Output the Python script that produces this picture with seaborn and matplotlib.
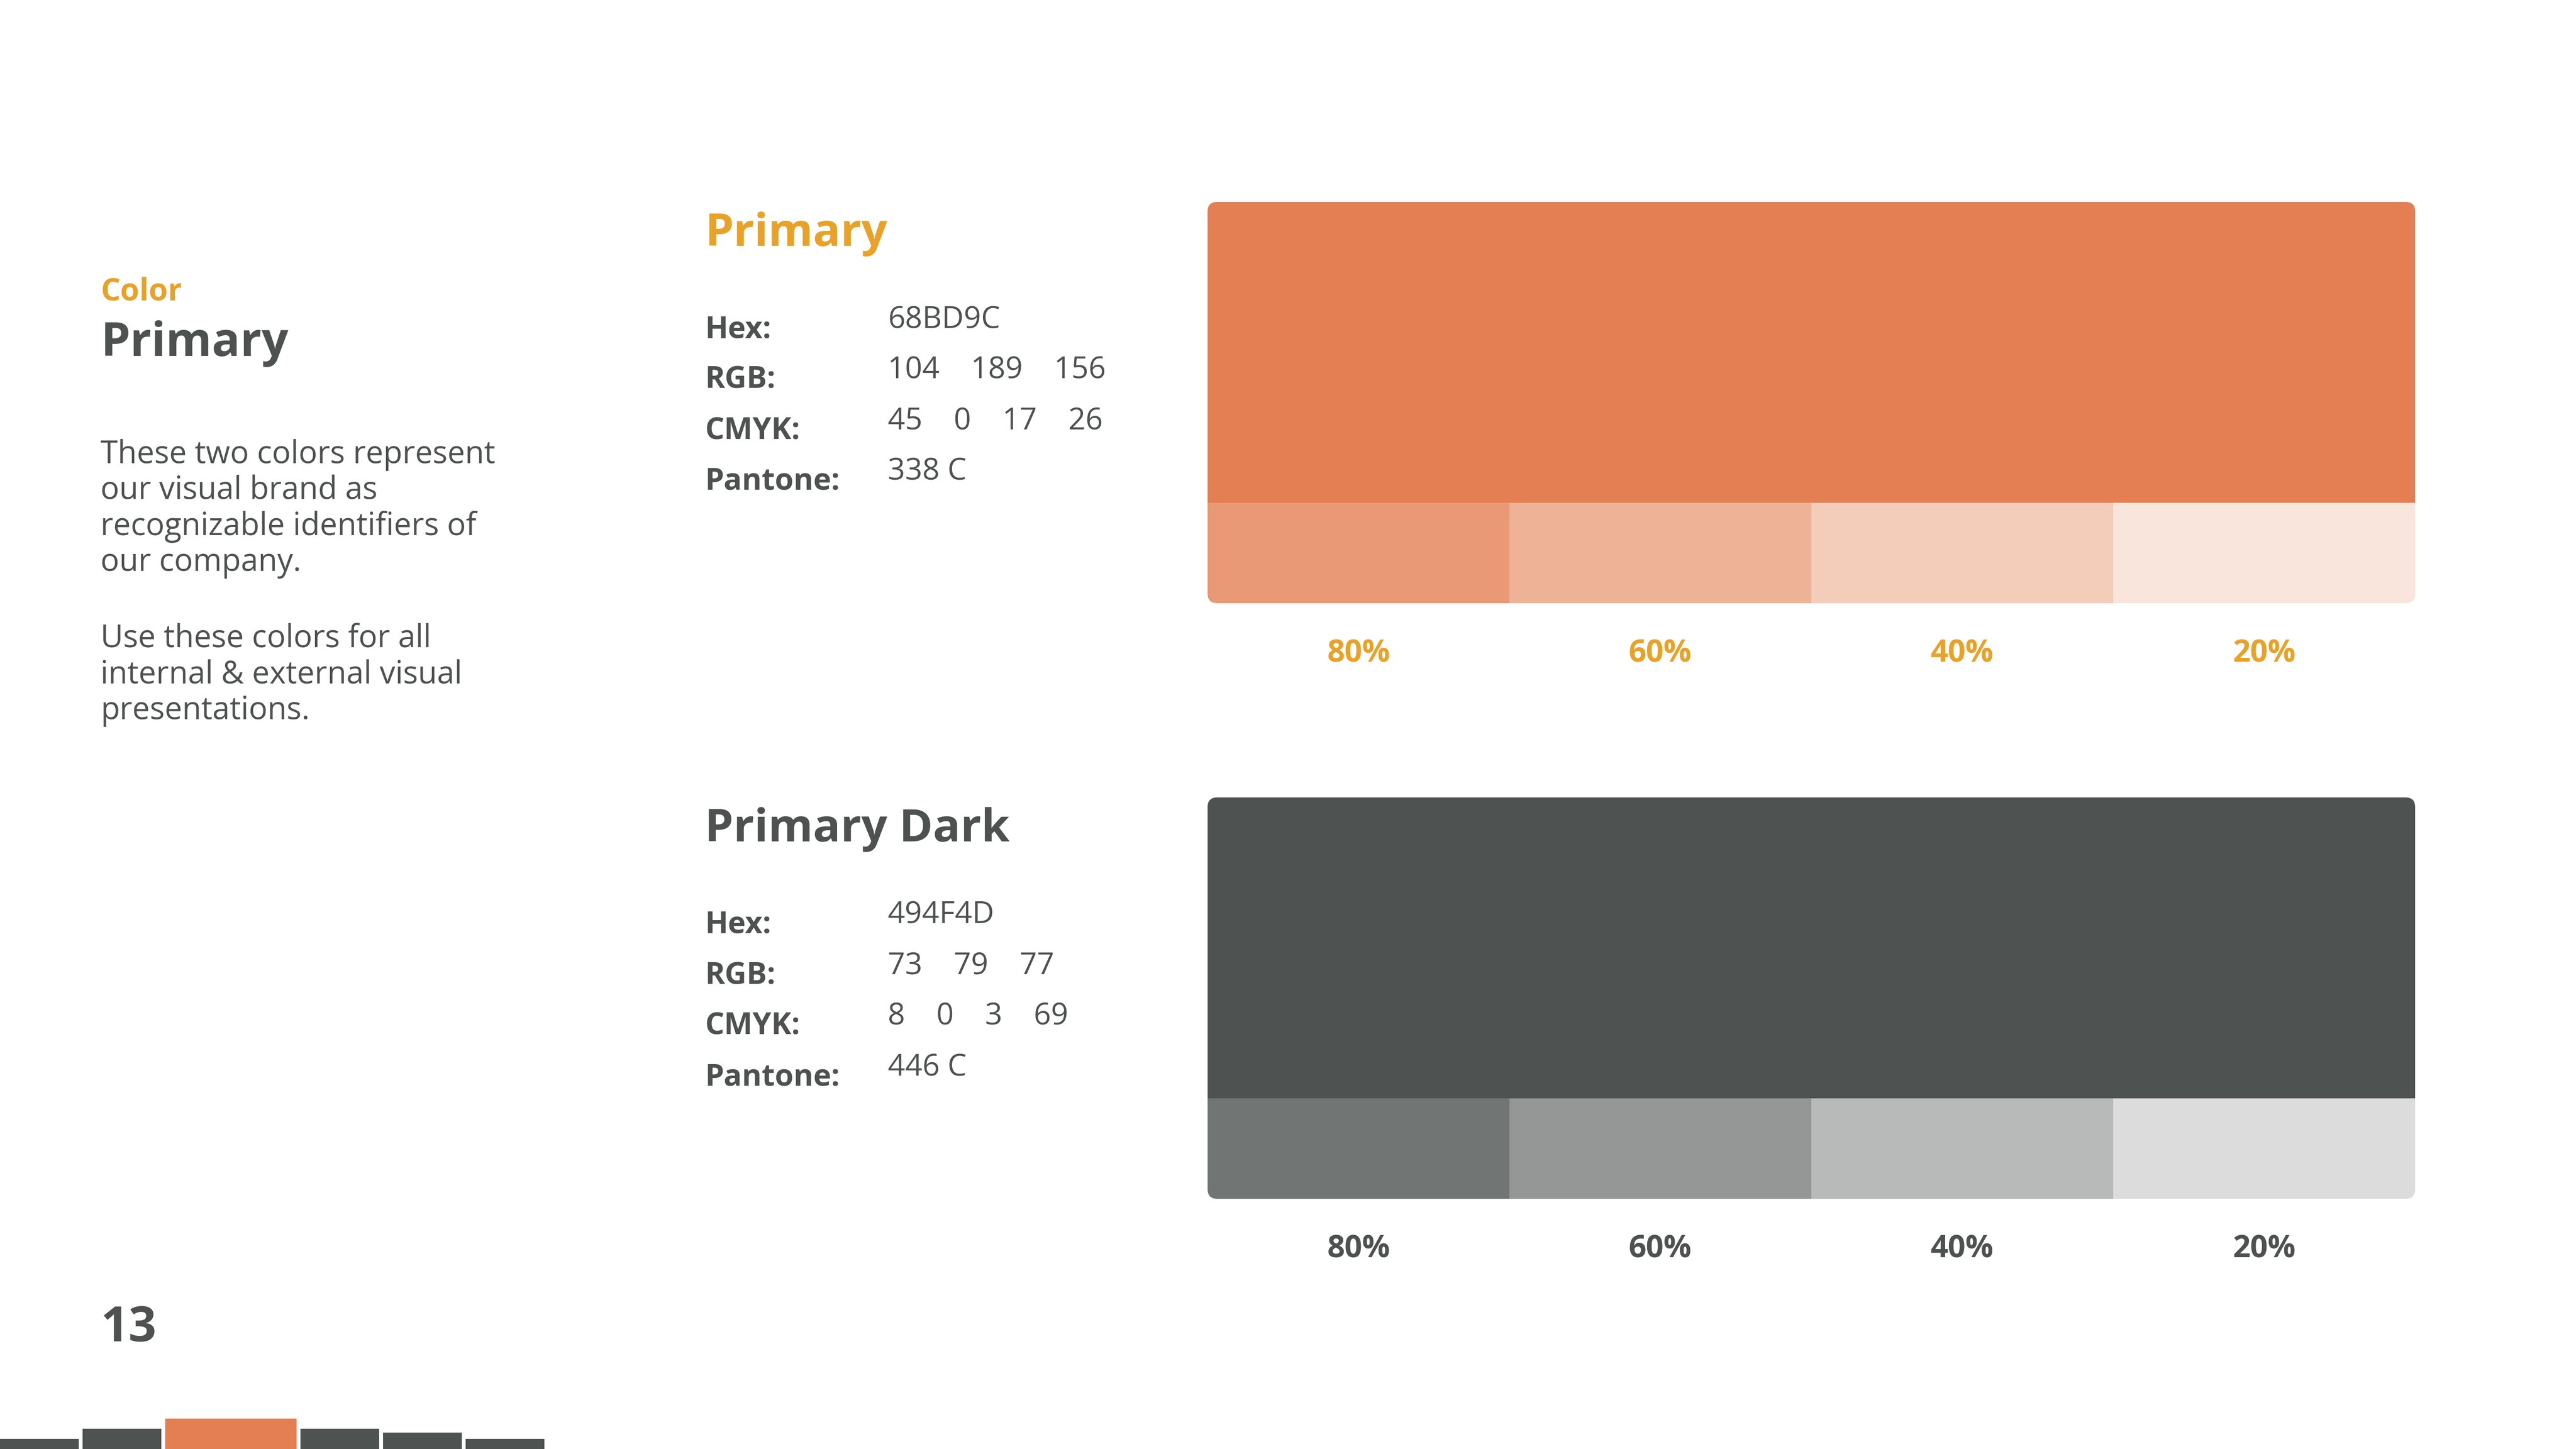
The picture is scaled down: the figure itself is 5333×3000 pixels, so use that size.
import matplotlib

matplotlib.use("Agg")

import matplotlib.pyplot as plt
import numpy as np
import seaborn as sns
from matplotlib.colors import to_rgb
from matplotlib.patches import FancyBboxPatch

# ---- data -------------------------------------------------------------
tint_levels = [80, 60, 40, 20]
tint_labels = [f"{v}%" for v in tint_levels]

swatch_names = ["Primary", "Primary Dark"]
swatch_colors = ["#E37F52", "#4E5250"]
swatch_hex = ["68BD9C", "494F4D"]
swatch_rgb = [["104", "189", "156"], ["73", "79", "77"]]
swatch_cmyk = [["45", "0", "17", "26"], ["8", "0", "3", "69"]]
swatch_pantone = ["338 C", "446 C"]

spec_labels = ["Hex:", "RGB:", "CMYK:", "Pantone:"]

intro_lines = [
    "These two colors represent",
    "our visual brand as",
    "recognizable identifiers of",
    "our company.",
]
usage_lines = [
    "Use these colors for all",
    "internal & external visual",
    "presentations.",
]

# decorative step bars at the bottom-left (height in px, relative width)
step_heights = [21, 42, 63, 42, 34, 21]
step_widths = [1, 1, 1.67, 1, 1, 1]
step_colors = ["#4E5250", "#4E5250", "#E37F52", "#4E5250", "#4E5250", "#4E5250"]
page_number = "13"

# ---- style ------------------------------------------------------------
GRAY = "#4D514F"
GOLD = "#E8A229"
W, H = 5333, 3000
DPI = 100

sns.set_theme(style="white")
plt.rcParams["font.family"] = ["Open Sans", "DejaVu Sans"]


def tint(color, level):
    rgb = np.array(to_rgb(color))
    return tuple(rgb * level / 100 + (1 - level / 100))


fig = plt.figure(figsize=(W / DPI, H / DPI), dpi=DPI, facecolor="white")
bg = fig.add_axes([0, 0, 1, 1])
bg.set_xlim(0, W)
bg.set_ylim(H, 0)
bg.axis("off")

# ---- left column ------------------------------------------------------
bg.text(208, 622, "Color", color=GOLD, fontsize=46, fontweight="bold", va="baseline")
bg.text(208, 737, "Primary", color=GRAY, fontsize=70, fontweight="bold", va="baseline")
for i, line in enumerate(intro_lines):
    bg.text(208, 959 + i * 74.5, line, color=GRAY, fontsize=46.5, va="baseline")
for i, line in enumerate(usage_lines):
    bg.text(208, 1340 + i * 74.5, line, color=GRAY, fontsize=46.5, va="baseline")
bg.text(208, 2777, page_number, color=GRAY, fontsize=73, fontweight="bold", va="baseline")

# ---- swatch blocks ----------------------------------------------------
block_step = 1233
for k, name in enumerate(swatch_names):
    dy = k * block_step
    title_color = GOLD if k == 0 else GRAY
    bg.text(1459, 509 + dy, name, color=title_color, fontsize=68, fontweight="bold", va="baseline")

    values = [
        swatch_hex[k],
        "    ".join(swatch_rgb[k]),
        "    ".join(swatch_cmyk[k]),
        swatch_pantone[k],
    ]
    for j, (lab, val) in enumerate(zip(spec_labels, values)):
        bg.text(1459, 699 + dy + j * 105, lab, color=GRAY, fontsize=45, fontweight="bold", va="baseline")
        bg.text(1838, 679 + dy + j * 105, val, color=GRAY, fontsize=45, va="baseline")

    # swatch axes: tint strip at the bottom, main colour band on top
    left, top, right, bottom = 2500, 418 + dy, 5000, 1249 + dy
    ax = fig.add_axes([left / W, 1 - bottom / H, (right - left) / W, (bottom - top) / H])
    base = swatch_colors[k]
    shades = [tint(base, v) for v in tint_levels]
    sns.barplot(
        x=tint_labels, y=[1] * len(tint_labels), hue=tint_labels,
        palette=shades, saturation=1, width=1, linewidth=0, legend=False, ax=ax,
    )
    ax.bar(1.5, 3, bottom=1, width=4, color=base, linewidth=0)
    ax.set_xlim(-0.5, 3.5)
    ax.set_ylim(0, 4)
    ax.set_yticks([])
    ax.set_xlabel("")
    ax.set_ylabel("")
    sns.despine(ax=ax, left=True, bottom=True)
    ax.set_facecolor("none")
    ax.tick_params(axis="x", length=0, pad=52, labelsize=46,
                   labelcolor=GOLD if k == 0 else GRAY)
    for lbl in ax.get_xticklabels():
        lbl.set_fontweight("bold")

    clip = FancyBboxPatch(
        (left / DPI, (H - bottom) / DPI), (right - left) / DPI, (bottom - top) / DPI,
        boxstyle="round,pad=0,rounding_size=0.2", transform=fig.dpi_scale_trans,
        facecolor="none", edgecolor="none",
    )
    for p in ax.patches:
        p.set_clip_path(clip)

# ---- bottom step bars -------------------------------------------------
unit, gap = 163, 8
widths = [w * unit for w in step_widths]
starts = np.concatenate([[0], np.cumsum(np.array(widths) + gap)[:-1]])
total = starts[-1] + widths[-1]
sax = fig.add_axes([0, 0, total / W, max(step_heights) / H])
sax.bar(starts, step_heights, width=widths, align="edge", color=step_colors, linewidth=0)
sax.set_xlim(0, total)
sax.set_ylim(0, max(step_heights))
sax.axis("off")

fig.savefig("out.png", dpi=DPI, facecolor="white")
plt.close(fig)
